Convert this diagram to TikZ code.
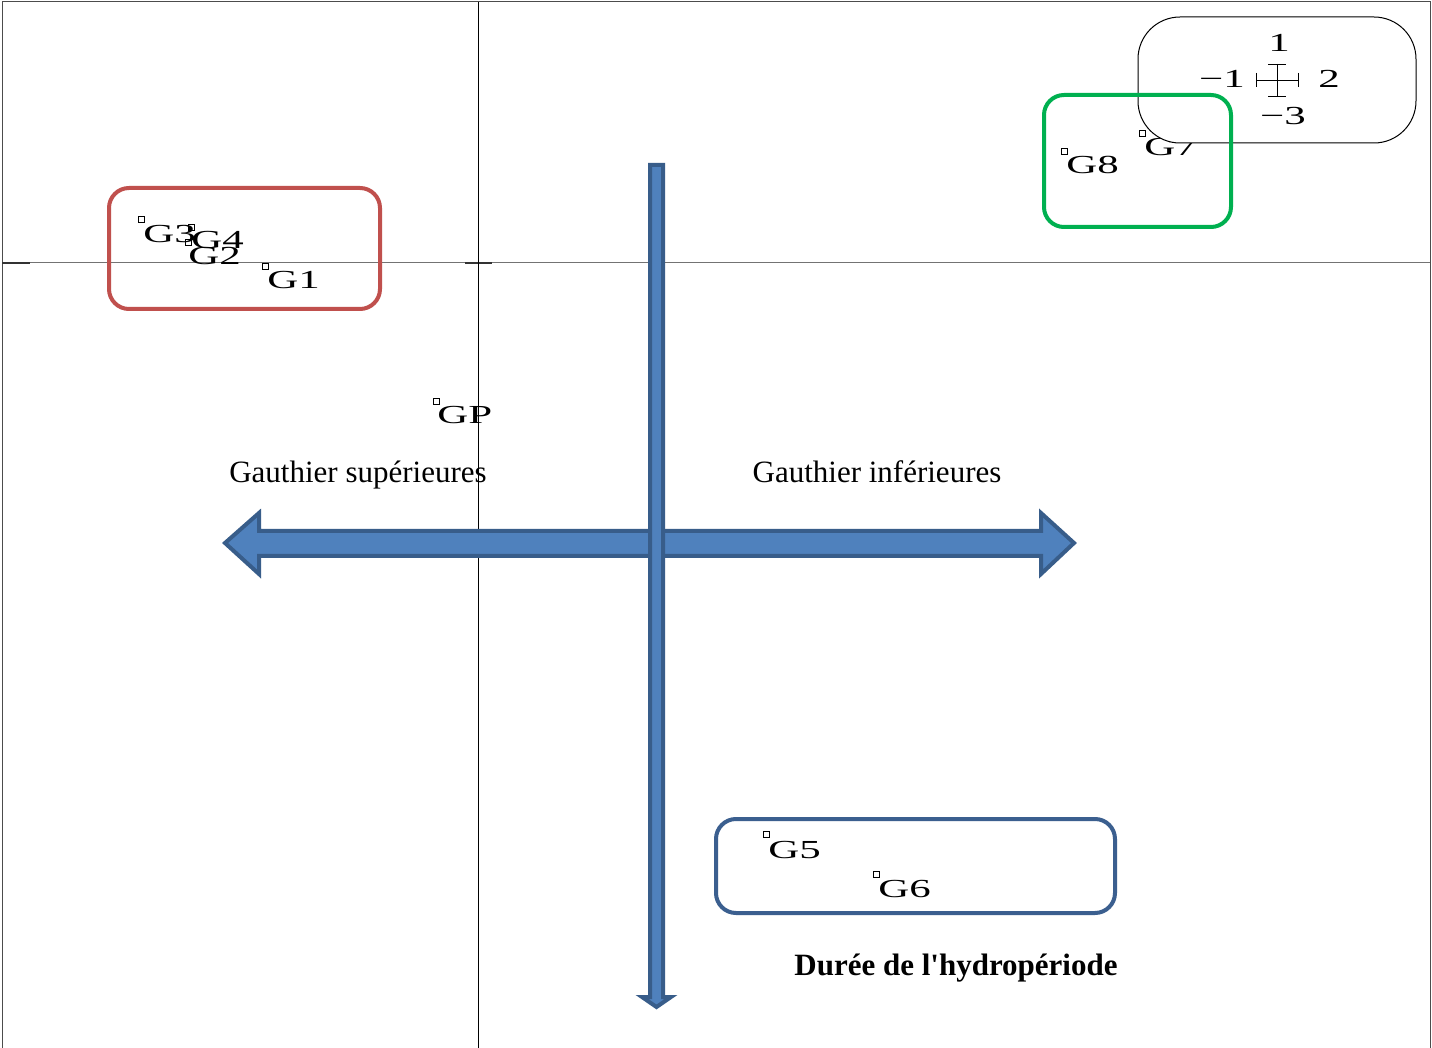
\documentclass[tikz,border=0pt]{standalone}
\usepackage{fontspec}
\setmainfont{Liberation Serif}
\usepackage{graphicx}
\definecolor{boxred}{HTML}{C0504D}
\definecolor{boxgreen}{HTML}{00B050}
\definecolor{boxblue}{HTML}{3B5F8F}
\definecolor{arrfill}{HTML}{4F81BD}
\definecolor{arrline}{HTML}{385D8A}
\newcommand\widetxt[1]{\scalebox{1.65}[1]{#1}}
\begin{document}
\begin{tikzpicture}[x=0.5pt,y=-0.5pt,
  glab/.style={font=\fontsize{13}{13}\selectfont, inner sep=0pt, anchor=base west},
  lglab/.style={font=\fontsize{13}{13}\selectfont, inner sep=0pt, anchor=base},
  bigtxt/.style={font=\fontsize{15.5}{18}\selectfont, inner sep=0pt, anchor=base},
  marker/.style={draw=black, line width=0.4pt},
  groupbox/.style={line width=2pt, rounded corners=10pt},
  blockarrow/.style={fill=arrfill, draw=arrline, line width=2pt, line join=miter}]
\useasboundingbox (0,0) rectangle (1432,1048);
\fill[white] (0,0) rectangle (1432,1048);
% frame and axes
\draw[line width=0.5pt, black!70] (2,1048) -- (2,2) -- (1430,2) -- (1430,1048);
\draw[line width=0.5pt, black!55] (2,263) -- (1430,263);
\draw[line width=0.6pt, black!80] (2,263) -- (30,263);
\draw[line width=0.6pt, black!80] (465,263) -- (492,263);
\draw[line width=0.5pt, black] (478,2) -- (478,1048);
% point markers
\draw[marker] (138,216) rectangle (144,222);
\draw[marker] (188,224) rectangle (194,230);
\draw[marker] (185,239) rectangle (191,245);
\draw[marker] (262,263) rectangle (268,269);
\draw[marker] (433,398) rectangle (439,404);
\draw[marker] (1061,148) rectangle (1067,154);
\draw[marker] (1139,130) rectangle (1145,136);
\draw[marker] (763,831) rectangle (769,837);
\draw[marker] (873,871) rectangle (879,877);
% point labels
\node[glab] (g3) at (143,243) {\widetxt{G3}};
\node[glab] (g4) at (191,249) {\widetxt{G4}};
\node[glab] (g2) at (188,265) {\widetxt{G2}};
\node[glab] (g1) at (267,289) {\widetxt{G1}};
\node[glab] (gp) at (437,424) {\widetxt{GP}};
\node[glab] (g8) at (1066,174) {\widetxt{G8}};
\node[glab] (g7) at (1144,156) {\widetxt{G7}};
\node[glab] (g5) at (768,858) {\widetxt{G5}};
\node[glab] (g6) at (878,897) {\widetxt{G6}};
% legend
\draw[fill=white, line width=0.5pt, rounded corners=21pt] (1138,17) rectangle (1416,143);
\draw[line width=0.4pt] (1256,80) -- (1298,80);
\draw[line width=0.4pt] (1256,73) -- (1256,87);
\draw[line width=0.4pt] (1298,73) -- (1298,87);
\draw[line width=0.4pt] (1277,64) -- (1277,96);
\draw[line width=0.4pt] (1268,64) -- (1286,64);
\draw[line width=0.4pt] (1268,96) -- (1286,96);
\node[lglab] (l1) at (1279,52) {\widetxt{1}};
\node[lglab] (lm1) at (1222,88) {\widetxt{−1}};
\node[lglab] (l2) at (1329,88) {\widetxt{2}};
\node[lglab] (lm3) at (1283,125) {\widetxt{−3}};
% group boxes
\draw[groupbox, draw=boxred] (109,188) rectangle (380,309);
\draw[groupbox, draw=boxgreen] (1044,95) rectangle (1231,227);
\draw[groupbox, draw=boxblue] (716,819) rectangle (1115,913);
% block arrows
\draw[blockarrow] (225,543) -- (259,513) -- (259,531) -- (1041,531) -- (1041,513) -- (1074,543) -- (1041,574) -- (1041,556) -- (259,556) -- (259,574) -- cycle;
\draw[blockarrow] (650,165) -- (663,165) -- (663,997) -- (671,997) -- (656.5,1007) -- (642,997) -- (650,997) -- cycle;
% texts
\node[bigtxt] (sup) at (358,483) {Gauthier supérieures};
\node[bigtxt] (inf) at (877,483) {Gauthier inférieures};
\node[bigtxt] (dur) at (956,975) {\bfseries Durée de l\textquotesingle hydropériode};
\end{tikzpicture}
\end{document}
